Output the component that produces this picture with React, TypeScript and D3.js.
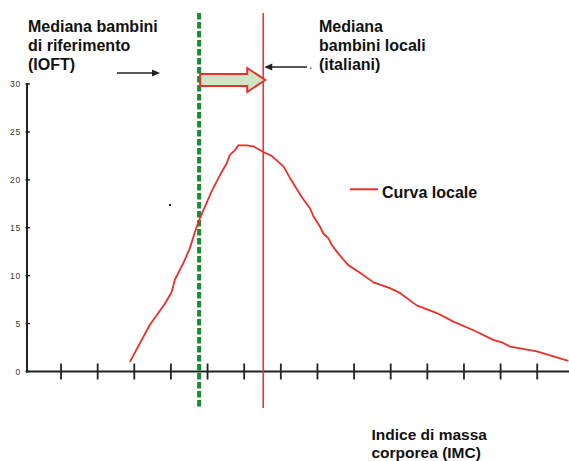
import React from "react";
import * as d3 from "d3";

// BMI class index (x) and frequency % (y)
const bmiX = [2.88, 3.43, 3.84, 4.02, 4.11, 4.34, 4.52, 4.66, 4.75, 4.93, 5.11, 5.34, 5.52, 5.61, 5.75, 5.84, 6.07, 6.25, 6.52, 6.75, 7.07, 7.25, 7.57, 7.8, 7.89, 8.07, 8.16, 8.3, 8.39, 8.57, 8.84, 9.16, 9.53, 9.98, 10.25, 10.71, 11.26, 11.71, 12.26, 12.8, 13.03, 13.26, 13.99, 14.85];
const freq = [1.0, 4.9, 7.1, 8.3, 9.6, 11.3, 12.9, 14.6, 15.6, 17.2, 18.8, 20.5, 21.7, 22.6, 23.1, 23.6, 23.6, 23.5, 22.9, 22.5, 21.4, 20.2, 18.2, 17.0, 16.2, 15.1, 14.4, 13.9, 13.2, 12.3, 11.1, 10.3, 9.3, 8.7, 8.2, 6.9, 6.1, 5.2, 4.3, 3.3, 3.05, 2.6, 2.1, 1.1];
const yTicks = [0, 5, 10, 15, 20, 25, 30];
const xTicks = [1, 2, 3, 4, 5, 6, 7, 8, 9, 10, 11, 12, 13, 14];
const medianRef = 4.77; // IOFT
const medianLocal = 6.52; // italiani
const refLabel = ["Mediana bambini", "di riferimento", "(IOFT)"];
const localLabel = ["Mediana", "bambini locali", "(italiani)"];
const xTitle = ["Indice di massa", "corporea (IMC)"];
const legendLabel = "Curva locale";

const W = 569;
const H = 461;
const FONT = "'Liberation Sans', Arial, Helvetica, sans-serif";

export default function App() {
  const x = d3.scaleLinear().domain([0, 15]).range([24.4, 24.4 + 36.63 * 15]);
  const y = d3.scaleLinear().domain([0, 30]).range([371.5, 84]);
  const axisX = 27;
  const pts = bmiX.map((v, i) => [v, freq[i]] as [number, number]);
  const line = d3
    .line<[number, number]>()
    .x((d) => x(d[0]))
    .y((d) => y(d[1]))
    .curve(d3.curveLinear);

  const xr = x(medianRef);
  const xl = x(medianLocal);
  // block arrow from reference median to local median
  const bTop = 74, bBot = 86, hTop = 68, hBot = 92, mid = 80;
  const headBase = xl - 16;
  const block = [
    [xr + 1, bTop], [headBase, bTop], [headBase, hTop], [xl + 2, mid],
    [headBase, hBot], [headBase, bBot], [xr + 1, bBot],
  ].map((p) => p.join(",")).join(" ");

  return (
    <svg
      width={W}
      height={H}
      style={{ position: "fixed", left: 0, top: 0, background: "#fff" }}
      fontFamily={FONT}
    >
      <rect width={W} height={H} fill="#fff" />
      {/* axes */}
      <line x1={axisX} x2={axisX} y1={y(30) - 1} y2={y(0) + 1} stroke="#222" strokeWidth={2} />
      <line x1={axisX - 1} x2={W} y1={y(0)} y2={y(0)} stroke="#222" strokeWidth={2} />
      {yTicks.map((t) => (
        <g key={t}>
          <line x1={axisX - 1.5} x2={axisX + 3} y1={y(t)} y2={y(t)} stroke="#222" strokeWidth={1.5} />
          <text x={axisX - 6} y={y(t) + 3} fontSize={8.5} textAnchor="end" fill="#333" letterSpacing={0.8}>
            {t}
          </text>
        </g>
      ))}
      {xTicks.map((t) => (
        <line key={t} x1={x(t)} x2={x(t)} y1={y(0) - 8} y2={y(0) + 8} stroke="#222" strokeWidth={1.8} />
      ))}

      {/* medians */}
      <line x1={xr} x2={xr} y1={13} y2={408} stroke="#178a32" strokeWidth={4} strokeDasharray="6.5,2.5" />
      <line x1={xl} x2={xl} y1={13} y2={408} stroke="#e53935" strokeWidth={1.6} />

      {/* curve */}
      <path d={line(pts) || ""} fill="none" stroke="#e8302a" strokeWidth={1.8} strokeLinejoin="round" />

      {/* block arrow */}
      <polygon points={block} fill="#d0e4c6" stroke="#e8302a" strokeWidth={2} strokeLinejoin="miter" />

      {/* black pointer arrows */}
      <line x1={117} x2={156} y1={73} y2={73} stroke="#222" strokeWidth={1.3} />
      <polygon points={`${160},73 ${152},69.5 ${152},76.5`} fill="#222" />
      <line x1={307} x2={xl + 5} y1={67} y2={67} stroke="#222" strokeWidth={1.3} />
      <polygon points={`${xl + 1},67 ${xl + 9},63.5 ${xl + 9},70.5`} fill="#222" />
      <rect x={310} y={67.5} width={1.5} height={1.5} fill="#666" />
      <rect x={169} y={204} width={2} height={2} fill="#222" />

      {/* texts */}
      {refLabel.map((s, i) => (
        <text key={s} x={28} y={32 + i * 19} fontSize={16} fontWeight="bold" fill="#111">
          {s}
        </text>
      ))}
      {localLabel.map((s, i) => (
        <text key={s} x={319} y={32 + i * 19} fontSize={16} fontWeight="bold" fill="#111">
          {s}
        </text>
      ))}
      {xTitle.map((s, i) => (
        <text key={s} x={371.5} y={440 + i * 17.5} fontSize={15.5} fontWeight="bold" fill="#111">
          {s}
        </text>
      ))}

      {/* legend */}
      <line x1={350} x2={378} y1={189.3} y2={189.3} stroke="#e8302a" strokeWidth={2} />
      <text x={382} y={197.5} fontSize={16} fontWeight="bold" fill="#111">
        {legendLabel}
      </text>
    </svg>
  );
}
